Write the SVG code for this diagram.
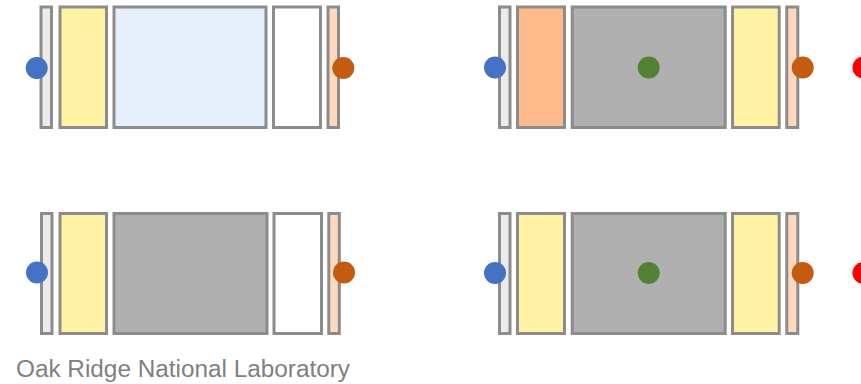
<svg xmlns="http://www.w3.org/2000/svg" width="861" height="384" viewBox="0 0 861 384">
<style>
.b{stroke:#8c8c8c;stroke-width:3}
.lg{fill:#ebebeb}.ye{fill:#fff2a3}.lb{fill:#e6f0fd}.wh{fill:#ffffff}.pe{fill:#ffd9bd}.gr{fill:#b0b0b0}.or{fill:#ffba8b}
.t{font-family:"Liberation Sans",Arial,sans-serif;font-size:23px;fill:#808080}
</style>
<rect width="861" height="384" fill="#ffffff"/>
<g id="cell-top-left">
<rect class="b lg" x="41" y="7" width="10.5" height="120.5"/>
<rect class="b ye" x="60" y="7" width="46.5" height="120.5"/>
<rect class="b lb" x="114" y="7" width="152" height="120.5"/>
<rect class="b wh" x="273.5" y="7" width="47" height="120.5"/>
<rect class="b pe" x="328" y="7" width="10.5" height="120.5"/>
<circle cx="36.7" cy="68" r="11" fill="#4472c4"/>
<circle cx="343.3" cy="68" r="11" fill="#c55a11"/>
</g>
<g id="cell-bottom-left">
<rect class="b lg" x="41.5" y="213.5" width="10.5" height="120"/>
<rect class="b ye" x="60" y="213.5" width="46.5" height="120"/>
<rect class="b gr" x="114" y="213.5" width="153" height="120"/>
<rect class="b wh" x="274" y="213.5" width="47.5" height="120"/>
<rect class="b pe" x="328.8" y="213.5" width="10.5" height="120"/>
<circle cx="37" cy="272.5" r="11" fill="#4472c4"/>
<circle cx="344" cy="272.5" r="11" fill="#c55a11"/>
</g>
<g id="cell-top-right">
<rect class="b lg" x="499.5" y="7" width="10.5" height="120.5"/>
<rect class="b or" x="517.5" y="7" width="47" height="120.5"/>
<rect class="b gr" x="572.2" y="7" width="153" height="120.5"/>
<rect class="b ye" x="732.5" y="7" width="46.7" height="120.5"/>
<rect class="b pe" x="786.8" y="7" width="11" height="120.5"/>
<circle cx="495" cy="67.5" r="11" fill="#4472c4"/>
<circle cx="648.7" cy="67.5" r="11" fill="#548235"/>
<circle cx="802.7" cy="67.5" r="11" fill="#c55a11"/>
<circle cx="863.5" cy="67.5" r="11" fill="#ff0000"/>
</g>
<g id="cell-bottom-right">
<rect class="b lg" x="499.5" y="213.5" width="10.5" height="120"/>
<rect class="b ye" x="517.5" y="213.5" width="47" height="120"/>
<rect class="b gr" x="572.2" y="213.5" width="153" height="120"/>
<rect class="b ye" x="732.5" y="213.5" width="46.7" height="120"/>
<rect class="b pe" x="786.8" y="213.5" width="11" height="120"/>
<circle cx="495" cy="273" r="11" fill="#4472c4"/>
<circle cx="648.7" cy="273" r="11" fill="#548235"/>
<circle cx="802.7" cy="273" r="11" fill="#c55a11"/>
<circle cx="863.5" cy="273" r="11" fill="#ff0000"/>
</g>
<g id="connectors"></g>
<text class="t" x="16" y="377" textLength="334" lengthAdjust="spacingAndGlyphs">Oak Ridge National Laboratory</text>
</svg>
